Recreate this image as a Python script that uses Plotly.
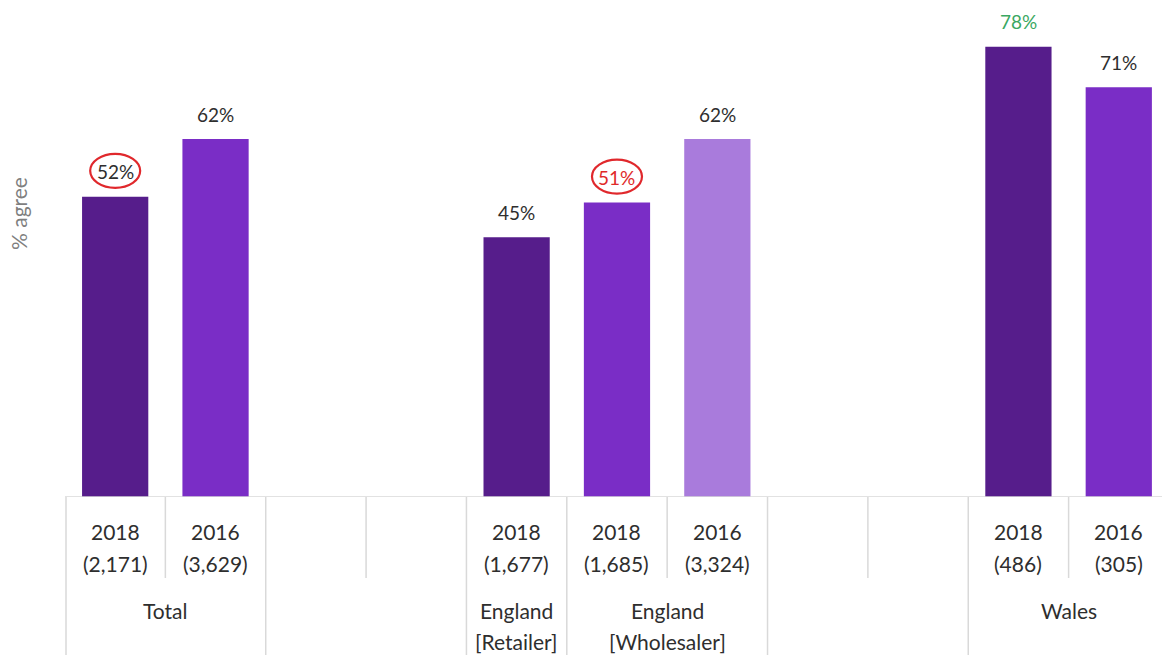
import plotly.graph_objects as go

# Eleven category slots: bars plus the empty spacer slots between groups
slot_years = ["2018", "2016", "", "", "2018", "2018", "2016", "", "", "2018", "2016"]
slot_bases = ["(2,171)", "(3,629)", "", "", "(1,677)", "(1,685)", "(3,324)", "", "", "(486)", "(305)"]
agree_pct = [52, 62, None, None, 45, 51, 62, None, None, 78, 71]
bar_colors = ["#561d8b", "#7a2dc6", None, None, "#561d8b", "#7a2dc6", "#a97bdc", None, None, "#561d8b", "#7a2dc6"]
label_colors = ["#2e2e2e", "#2e2e2e", None, None, "#2e2e2e", "#e02a2a", "#2e2e2e", None, None, "#3aa862", "#2e2e2e"]
circled = [True, False, False, False, False, True, False, False, False, False, False]

# Outer category groups: (label lines, first slot, last slot)
groups = [
    (["Total"], 0, 1),
    ([""], 2, 3),
    (["England", "[Retailer]"], 4, 4),
    (["England", "[Wholesaler]"], 5, 6),
    ([""], 7, 8),
    (["Wales"], 9, 10),
]

W, H = 1162, 655
ML, MB = 65, 158
plot_h = H - MB
slot_px = 100.36
n_slots = len(slot_years)
x_max = -0.5 + (W - ML) / slot_px
y_max = 86.1
FONT = "Lato, Open Sans, sans-serif"

idx = [i for i, v in enumerate(agree_pct) if v is not None]

fig = go.Figure(go.Bar(
    x=idx,
    y=[agree_pct[i] for i in idx],
    marker=dict(color=[bar_colors[i] for i in idx], line=dict(width=0)),
    width=0.66,
    hoverinfo="skip",
))

annotations = []
shapes = []

# Value labels above each bar
for i in idx:
    annotations.append(dict(
        x=i, y=agree_pct[i], xref="x", yref="y",
        text=f"{agree_pct[i]}%", showarrow=False,
        yanchor="middle", yshift=25,
        font=dict(size=19, color=label_colors[i], family=FONT),
    ))
    if circled[i]:
        shapes.append(dict(
            type="circle", xref="x", yref="y",
            xsizemode="pixel", ysizemode="pixel",
            xanchor=i, yanchor=agree_pct[i],
            x0=-25, x1=25, y0=9, y1=43,
            line=dict(color="#e0282c", width=2.2),
        ))

def py(px_from_top):
    # convert a pixel row in the page to paper y
    return (plot_h - px_from_top) / plot_h

lab_font = dict(size=21, color="#2e2e2e", family=FONT)

# Inner (year / base size) labels
for i in range(n_slots):
    if slot_years[i]:
        annotations.append(dict(x=i, y=py(531), xref="x", yref="paper", text=slot_years[i],
                                showarrow=False, yanchor="middle", font=lab_font))
        annotations.append(dict(x=i, y=py(563), xref="x", yref="paper", text=slot_bases[i],
                                showarrow=False, yanchor="middle", font=lab_font))

# Outer group labels
for lines, a, b in groups:
    for k, line in enumerate(lines):
        if line:
            annotations.append(dict(x=(a + b) / 2, y=py(610 + 31 * k), xref="x", yref="paper",
                                    text=line, showarrow=False, yanchor="middle", font=lab_font))

# Category separators: full-height at group edges, short between slots inside a group
group_edges = {a for _, a, _ in groups}
sep_color = "#d9d9d9"
for k in range(n_slots + 1):
    bottom = py(H) if k in group_edges else py(578)
    xpos = k - 0.5 if k > 0 else -0.49
    shapes.append(dict(type="line", xref="x", yref="paper", x0=xpos, x1=xpos,
                       y0=0, y1=bottom, line=dict(color=sep_color, width=1.5)))

# Baseline
shapes.append(dict(type="line", xref="paper", yref="y", x0=0, x1=1, y0=0, y1=0,
                   line=dict(color=sep_color, width=1.5)))

# Vertical axis title
annotations.append(dict(x=0, xref="paper", xshift=-47, xanchor="center",
                        y=py(214), yref="paper", yanchor="middle",
                        text="% agree", textangle=-90, showarrow=False,
                        font=dict(size=21, color="#7f7f7f", family=FONT)))

fig.update_layout(
    width=W, height=H,
    margin=dict(l=ML, r=0, t=0, b=MB),
    paper_bgcolor="white", plot_bgcolor="white",
    showlegend=False,
    xaxis=dict(range=[-0.5, x_max], showticklabels=False, showgrid=False, zeroline=False,
               showline=False, ticks=""),
    yaxis=dict(range=[0, y_max], showticklabels=False, showgrid=False, zeroline=False,
               showline=False, ticks=""),
    annotations=annotations,
    shapes=shapes,
)

fig.write_html("out.html", config={"displayModeBar": False})
